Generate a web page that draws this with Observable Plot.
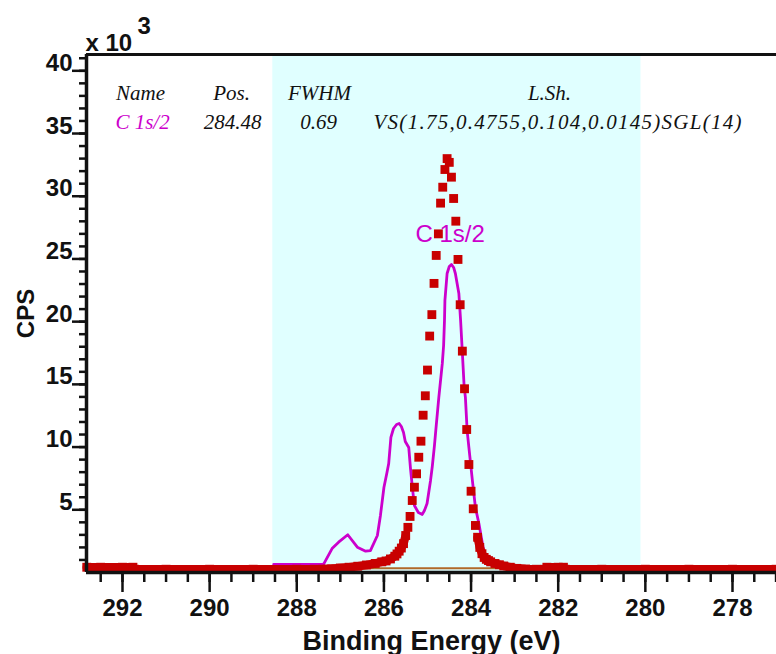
<!DOCTYPE html>
<html><head><meta charset="utf-8">
<script src="https://cdn.jsdelivr.net/npm/d3@7"></script>
<script src="https://cdn.jsdelivr.net/npm/@observablehq/plot@0.6"></script>
<style>
html,body{margin:0;padding:0;background:#fff;}
#chart{width:776px;height:654px;overflow:hidden;}
</style></head><body><div id="chart"></div>
<script>
// ---- data ----
const xDomain = [292.826, 276.99];
const yDomain = [0, 41300];
const xMajorTicks = [292, 290, 288, 286, 284, 282, 280, 278];
const yMajorTicks = [5000, 10000, 15000, 20000, 25000, 30000, 35000, 40000];
const regionBounds = [288.55, 280.1];

// measured data (red squares)
const redEnergy = [292.82,292.5,292.0,291.76,291.72,291.0,290.0,289.0,288.0,287.6,287.4,287.2,287.0,286.8,286.6,286.4,286.2,286.05,285.95,285.85,285.75,285.7,285.65,285.6,285.55,285.5,285.45,285.4,285.35,285.3,285.25,285.2,285.15,285.1,285.05,285.0,284.95,284.9,284.85,284.8,284.75,284.7,284.65,284.6,284.55,284.5,284.45,284.4,284.35,284.3,284.25,284.2,284.15,284.1,284.05,284.0,283.95,283.9,283.85,283.8,283.75,283.7,283.65,283.6,283.55,283.45,283.35,283.25,283.1,282.95,282.75,282.5,282.3,282.26,282.0,281.88,281.84,281.0,280.0,279.0,278.0,277.0];
const redCps = [420,420,420,420,260,260,260,260,260,260,270,300,360,420,500,600,720,850,920,1080,1300,1480,1700,1950,2300,2950,3600,4470,5740,6800,7870,9190,10470,12540,14090,16140,18850,20560,23050,25280,27000,29450,30720,32130,33000,32700,31520,29820,28010,24960,21350,17650,14650,11400,8610,6480,5080,3750,2810,2000,1500,1200,1050,950,850,720,620,520,420,330,280,260,260,420,420,420,260,260,260,260,260,260];

// component envelope (magenta line)
const magentaEnergy = [288.53,287.42,287.38,287.19,287.04,286.83,286.61,286.42,286.31,286.15,286.08,286.00,285.93,285.89,285.84,285.78,285.71,285.65,285.60,285.55,285.51,285.43,285.39,285.34,285.30,285.21,285.12,285.07,285.01,284.93,284.89,284.84,284.81,284.74,284.66,284.63,284.61,284.60,284.55,284.50,284.45,284.40,284.36,284.28,284.24,284.20,284.16,284.13,284.09,284.05,283.97,283.90,283.82,283.74,283.67,283.62,283.30];
const magentaCps = [640,640,690,1910,2420,3010,2020,1700,1750,2950,4550,6780,7970,8690,10770,11480,11800,11880,11640,11160,10450,9970,8290,6540,5340,4780,4630,4940,5500,7340,8450,10130,11320,13960,16670,18100,20090,21690,23840,24400,24560,24320,23840,22250,20090,17540,14910,13960,11320,9970,7340,5180,3910,2310,960,640,640];

// region background line
const bgEnergy = [288.55, 280.1];
const bgCps = [330, 330];

const peakLabel = "C 1s/2";
const peakLabelEnergy = 284.48;
const peakLabelCps = 26950;

const tableHeader = ["Name", "Pos.", "FWHM", "L.Sh."];
const tableRow = ["C 1s/2", "284.48", "0.69", "VS(1.75,0.4755,0.104,0.0145)SGL(14)"];

const xLabel = "Binding Energy (eV)";
const yLabel = "CPS";
const multiplierText = "x 10";
const multiplierExp = "3";

// ---- build tables ----
const red = redEnergy.map((e, i) => ({e, c: redCps[i]}));
const magenta = magentaEnergy.map((e, i) => ({e, c: magentaCps[i]}));
const bg = bgEnergy.map((e, i) => ({e, c: bgCps[i]}));
const region = [{x1: regionBounds[0], x2: regionBounds[1], y1: yDomain[0], y2: yDomain[1]}];
const labelData = [{e: peakLabelEnergy, c: peakLabelCps, t: peakLabel}];
const xMinorTicks = d3.range(277, 293, 0.5);
const yMinorTicks = d3.range(1000, 41001, 1000);

// layout (pixel offsets from the frame's top-left corner)
const headerDx = [54, 145, 233, 463];
const rowDx = [56, 146, 232, 287];
const rowAnchor = ["middle", "middle", "middle", "start"];
const lshTextLength = 368;

const INK = "#111";
const MAG = "#cc00cc";
const RED = "#c80000";
const serif = "'Liberation Serif', 'Times New Roman', serif";

const tableMarks = [];
tableHeader.forEach((t, i) => tableMarks.push(Plot.text([t], {
  text: d => d, frameAnchor: "top-left", dx: headerDx[i], dy: 45,
  textAnchor: "middle", lineAnchor: "bottom", fontFamily: serif, fontStyle: "italic",
  fontWeight: "normal", fontSize: 21, fill: INK
})));
tableRow.forEach((t, i) => tableMarks.push(Plot.text([t], {
  text: d => d, frameAnchor: "top-left", dx: rowDx[i], dy: 74,
  textAnchor: rowAnchor[i], lineAnchor: "bottom", fontFamily: serif, fontStyle: "italic",
  fontWeight: "normal", fontSize: 21, fill: i === 0 ? MAG : INK
})));

const chart = Plot.plot({
  width: 776, height: 654,
  marginLeft: 86, marginRight: 0, marginTop: 54, marginBottom: 82,
  x: {domain: xDomain, label: null},
  y: {domain: yDomain, label: null},
  style: {fontFamily: "'Liberation Sans', Arial, sans-serif", fontSize: "24px", fontWeight: "bold", color: INK, background: "#fff", overflow: "visible"},
  marks: [
    Plot.rect(region, {x1: "x1", x2: "x2", y1: "y1", y2: "y2", fill: "#e0ffff"}),
    Plot.line(bg, {x: "e", y: "c", stroke: "#b06a2a", strokeWidth: 2}),
    Plot.line(magenta, {x: "e", y: "c", stroke: MAG, strokeWidth: 2.8}),
    Plot.text(labelData, {x: "e", y: "c", text: "t", fill: MAG, fontSize: 24, fontWeight: "normal", textAnchor: "middle"}),
    Plot.line(red, {x: "e", y: d => d.c <= 3000 ? d.c : NaN, stroke: RED, strokeWidth: 8.5}),
    Plot.dot(red, {x: "e", y: "c", symbol: "square", r: 5, fill: RED}),
    Plot.axisX(xMinorTicks, {tickSize: 10, strokeWidth: 2.5, stroke: INK, tickFormat: () => "", label: null}),
    Plot.axisX(xMajorTicks, {tickSize: 20, tickPadding: 6, strokeWidth: 2.5, stroke: INK, tickFormat: d => String(d), label: null, fontSize: 24, fontWeight: "bold", fill: INK}),
    Plot.axisY(yMinorTicks, {tickSize: 7, strokeWidth: 2.5, stroke: INK, tickFormat: () => "", label: null}),
    Plot.axisY(yMajorTicks, {tickSize: 14, tickPadding: 0, strokeWidth: 2.5, stroke: INK, tickFormat: d => String(d / 1000), lineAnchor: "bottom", label: null, fontSize: 24, fontWeight: "bold", fill: INK}),
    Plot.ruleY([yDomain[0]], {stroke: INK, strokeWidth: 3.5}),
    Plot.ruleY([yDomain[1]], {stroke: INK, strokeWidth: 3}),
    Plot.ruleX([xDomain[0]], {stroke: INK, strokeWidth: 3.5}),
    Plot.text([multiplierText], {text: d => d, frameAnchor: "top-left", dx: -1, dy: -4, textAnchor: "start", lineAnchor: "bottom", fontSize: 24, fontWeight: "bold", fill: INK}),
    Plot.text([multiplierExp], {text: d => d, frameAnchor: "top-left", dx: 51, dy: -21, textAnchor: "start", lineAnchor: "bottom", fontSize: 24, fontWeight: "bold", fill: INK}),
    Plot.text([yLabel], {text: d => d, frameAnchor: "left", dx: -53, rotate: -90, textAnchor: "middle", lineAnchor: "bottom", fontSize: 24, fontWeight: "bold", fill: INK}),
    Plot.text([xLabel], {text: d => d, frameAnchor: "bottom", dy: 77, textAnchor: "middle", lineAnchor: "bottom", fontSize: 27, fontWeight: "bold", fill: INK}),
    ...tableMarks
  ]
});
// widen the line-shape string to the spacing used in the reference
chart.querySelectorAll("text").forEach(t => {
  if (t.textContent === tableRow[3]) {
    t.setAttribute("textLength", lshTextLength);
    t.setAttribute("lengthAdjust", "spacing");
  }
});
document.getElementById("chart").appendChild(chart);
</script></body></html>
